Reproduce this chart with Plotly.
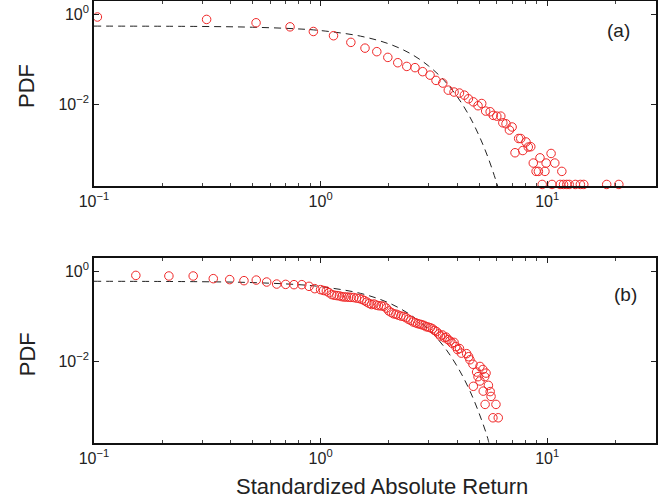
import plotly.graph_objects as go

# ---------------- data ----------------
# panel (a) empirical PDF
a_x = [0.1035, 0.314, 0.519, 0.733, 0.929, 1.14, 1.36, 1.57, 1.77, 1.98, 2.19, 2.40,
       2.61, 2.82, 3.04, 3.23, 3.46, 3.66, 3.88, 4.10, 4.31, 4.49, 4.72, 4.95, 5.14,
       5.35, 5.60, 5.78, 5.99, 6.24, 6.37, 6.58, 7.0, 6.81, 7.48, 7.64, 8.06, 8.25,
       8.46, 7.21, 7.80, 10.4, 9.29, 8.68, 9.89, 10.8, 8.93, 9.14, 9.77, 11.6,
       9.5, 10.5, 11.4, 11.8, 12.2, 12.5, 13.3, 14.0, 14.5, 18.3, 20.7]
a_y = [0.86, 0.76, 0.64, 0.52, 0.41, 0.33, 0.235, 0.175, 0.146, 0.109, 0.083, 0.0687,
       0.0645, 0.0525, 0.044, 0.0336, 0.0293, 0.0204, 0.0185, 0.0176, 0.0158, 0.0131,
       0.0112, 0.0092, 0.0103, 0.00699, 0.00676, 0.00561, 0.0054, 0.0054, 0.00384,
       0.00365, 0.0031, 0.00265, 0.00172, 0.00172, 0.00144, 0.00111, 0.00113, 0.00083,
       0.00093, 0.0008, 0.00064, 0.00049, 0.00049, 0.00049, 0.00032, 0.00032, 0.00032,
       0.00032, 0.000164, 0.000164, 0.000164, 0.000164, 0.000164, 0.000164, 0.000164,
       0.000164, 0.000164, 0.000164, 0.000164]

# panel (a) fitted (dashed) curve
a_fit_x = [0.1, 0.3, 0.5, 0.8, 1.0, 1.5, 2.0, 2.5, 3.0, 3.5, 4.0, 4.5, 5.0, 5.5, 6.0, 6.2]
a_fit_y = [0.54, 0.53, 0.51, 0.467, 0.43, 0.323, 0.218, 0.131, 0.070, 0.034, 0.0148,
           0.0058, 0.0020, 0.00062, 0.00017, 0.0001]

# panel (b) empirical PDF
b_x = [0.153, 0.214, 0.274, 0.336, 0.397, 0.459, 0.520, 0.578, 0.640, 0.701, 0.763,
       0.826, 0.889, 0.942, 1.0,
       1.03, 1.06, 1.09, 1.12, 1.15, 1.18, 1.21, 1.24, 1.27, 1.30, 1.33, 1.36, 1.40,
       1.44, 1.48, 1.52, 1.56, 1.60, 1.64, 1.68, 1.72, 1.76, 1.80, 1.85, 1.90, 1.95,
       2.00, 2.05, 2.10, 2.15, 2.20, 2.26, 2.32, 2.38, 2.44, 2.50, 2.56, 2.62, 2.68,
       2.74, 2.80, 2.86, 2.92, 2.98, 3.05, 3.12, 3.18, 3.25, 3.32, 3.38, 3.45, 3.52,
       3.58, 3.65, 3.72, 3.80, 3.88, 3.95, 4.02, 4.10, 4.18,
       4.41, 4.56, 4.50, 5.05, 4.88, 5.37, 4.70, 5.20, 5.05, 5.50, 4.72, 5.22, 5.65,
       5.32, 5.94, 5.76, 6.08, 5.60, 5.30, 4.95]
b_y = [0.80, 0.776, 0.776, 0.677, 0.645, 0.611, 0.63, 0.57, 0.514, 0.505, 0.498,
       0.498, 0.457, 0.406, 0.386,
       0.37, 0.36, 0.33, 0.30, 0.29, 0.285, 0.28, 0.27, 0.265, 0.265, 0.262, 0.26, 0.258,
       0.25, 0.245, 0.235, 0.22, 0.205, 0.19, 0.18, 0.185, 0.175, 0.17, 0.168, 0.165,
       0.15, 0.13, 0.12, 0.112, 0.11, 0.105, 0.10, 0.098, 0.092, 0.085, 0.08, 0.074,
       0.071, 0.068, 0.066, 0.064, 0.062, 0.058, 0.057, 0.055, 0.052, 0.048, 0.045,
       0.040, 0.036, 0.038, 0.033, 0.034, 0.030, 0.028, 0.025, 0.026, 0.021, 0.018,
       0.019, 0.015,
       0.0146, 0.0107, 0.0125, 0.0076, 0.0057, 0.0054, 0.0085, 0.0065, 0.00361,
       0.00289, 0.00275, 0.00215, 0.00164, 0.00109, 0.00109, 0.00055, 0.00055,
       0.0021, 0.0045, 0.0045]

# panel (b) fitted (dashed) curve
b_fit_x = [0.1, 0.3, 0.5, 0.8, 1.0, 1.5, 2.0, 2.5, 3.0, 3.5, 4.0, 4.5, 5.0, 5.5, 5.6]
b_fit_y = [0.592, 0.579, 0.554, 0.498, 0.45, 0.319, 0.196, 0.105, 0.050, 0.021,
           0.0077, 0.0025, 0.0007, 0.00017, 0.0001]

x_tickvals = [0.1, 1, 10]
x_ticktext = ["10<sup>−1</sup>", "10<sup>0</sup>", "10<sup>1</sup>"]
x_minorvals = [0.2, 0.3, 0.4, 0.5, 0.6, 0.7, 0.8, 0.9,
               2, 3, 4, 5, 6, 7, 8, 9, 20, 30]
y_tickvals = [1, 0.01]
y_ticktext = ["10<sup>0</sup>", "10<sup>−2</sup>"]
panel_labels = ["(a)", "(b)"]

# ---------------- figure ----------------
RED = "#f02828"
fig = go.Figure()

marker = dict(symbol="circle-open", size=8.5, color=RED, line=dict(width=1, color=RED))
dash = dict(color="#222222", width=1, dash="7px,5px")

fig.add_trace(go.Scatter(x=a_fit_x, y=a_fit_y, mode="lines", line=dash,
                         xaxis="x", yaxis="y", line_shape="spline"))
fig.add_trace(go.Scatter(x=a_x, y=a_y, mode="markers", marker=marker,
                         xaxis="x", yaxis="y", cliponaxis=False))
fig.add_trace(go.Scatter(x=b_fit_x, y=b_fit_y, mode="lines", line=dash,
                         xaxis="x2", yaxis="y2", line_shape="spline"))
fig.add_trace(go.Scatter(x=b_x, y=b_y, mode="markers", marker=marker,
                         xaxis="x2", yaxis="y2", cliponaxis=False))

FONT = "Liberation Sans, Arial, Helvetica, sans-serif"
common_x = dict(type="log", range=[-1, 1.48], tickmode="array", tickvals=x_tickvals,
                ticktext=x_ticktext, ticks="inside", ticklen=5, tickcolor="#222",
                showline=True, linecolor="#111", linewidth=1.6, mirror="ticks",
                showgrid=False, zeroline=False, automargin=False,
                tickfont=dict(size=16, color="#222"),
                minor=dict(tickmode="array", tickvals=x_minorvals, ticks="inside",
                           ticklen=3, tickcolor="#444", showgrid=False))
common_y = dict(type="log", range=[-3.82, 0.29], tickmode="array", tickvals=y_tickvals,
                ticktext=y_ticktext, ticks="inside", ticklen=5, tickcolor="#222",
                showline=True, linecolor="#111", linewidth=1.6, mirror="ticks",
                showgrid=False, zeroline=False, automargin=False,
                tickfont=dict(size=16, color="#222"))

fig.update_layout(
    width=670, height=502,
    margin=dict(l=94, r=14, t=1, b=59, autoexpand=False),
    paper_bgcolor="white", plot_bgcolor="white",
    showlegend=False,
    font=dict(family=FONT, color="#222"),
    xaxis=dict(common_x, anchor="y"),
    yaxis=dict(common_y, domain=[0.5814, 1], anchor="x"),
    xaxis2=dict(common_x, anchor="y2"),
    yaxis2=dict(common_y, domain=[0, 0.4186], anchor="x2"),
    annotations=[
        dict(text="PDF", xref="paper", yref="paper", x=-0.119, y=0.808,
             xanchor="center", yanchor="middle",
             textangle=-90, showarrow=False, font=dict(size=22)),
        dict(text="PDF", xref="paper", yref="paper", x=-0.119, y=0.201,
             xanchor="center", yanchor="middle",
             textangle=-90, showarrow=False, font=dict(size=22)),
        dict(text="Standardized Absolute Return", xref="paper", yref="paper",
             x=0.5125, y=-0.0995, xanchor="center", yanchor="middle",
             showarrow=False, font=dict(size=22)),
        dict(text=panel_labels[0], xref="paper", yref="paper", x=0.934, y=0.934,
             xanchor="center", yanchor="middle",
             showarrow=False, font=dict(size=19)),
        dict(text=panel_labels[1], xref="paper", yref="paper", x=0.945, y=0.335,
             xanchor="center", yanchor="middle",
             showarrow=False, font=dict(size=19)),
    ],
)

fig.write_html(
    "out.html",
    config={"displayModeBar": False},
    post_script="document.body.style.margin='0';document.body.style.padding='0';",
)
